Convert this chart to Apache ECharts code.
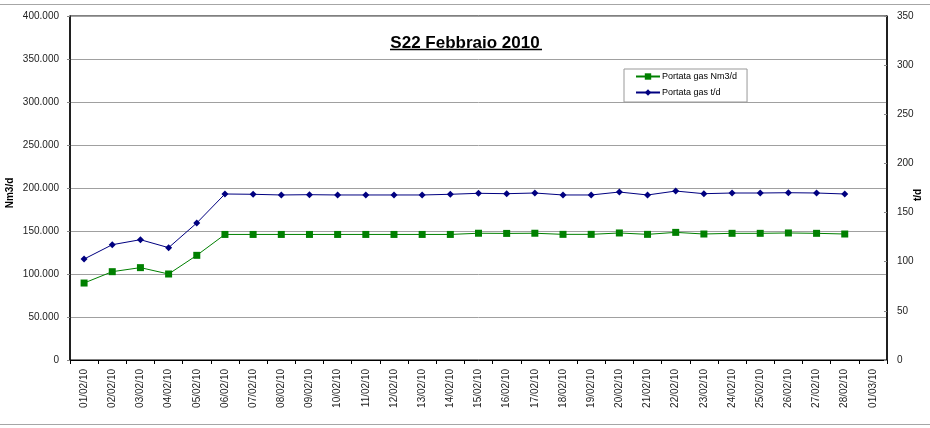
<!DOCTYPE html>
<html lang="it">
<head>
    <meta charset="UTF-8">
    <title>S22 Febbraio 2010</title>
    <style>
        body { margin: 0; background: #fff; }
        #chart { width: 930px; height: 428px; }
    </style>
    <script src="https://cdn.jsdelivr.net/npm/echarts@6/dist/echarts.min.js"></script>
</head>
<body>
    <div id="chart"></div>
    <script>
        // giorni (l'ultima categoria 01/03/10 non ha dati)
        var giorni = ['01/02/10', '02/02/10', '03/02/10', '04/02/10', '05/02/10', '06/02/10', '07/02/10',
            '08/02/10', '09/02/10', '10/02/10', '11/02/10', '12/02/10', '13/02/10', '14/02/10',
            '15/02/10', '16/02/10', '17/02/10', '18/02/10', '19/02/10', '20/02/10', '21/02/10',
            '22/02/10', '23/02/10', '24/02/10', '25/02/10', '26/02/10', '27/02/10', '28/02/10', '01/03/10'];

        // Portata gas Nm3/d (asse sinistro)
        var portataNm3 = [89500, 102700, 107400, 100000, 121700, 146000, 146000,
            146000, 146000, 146000, 146000, 146000, 146000, 146000,
            147400, 147200, 147400, 146100, 146100, 147700, 146100,
            148400, 146500, 147300, 147300, 147700, 147300, 146500, null];

        // Portata gas t/d (asse destro)
        var portataTd = [102.7, 117.3, 122.4, 114.3, 139.4, 168.9, 168.6,
            167.9, 168.2, 167.9, 167.9, 167.9, 167.9, 168.6,
            169.6, 169.2, 169.9, 167.9, 167.9, 170.9, 167.9,
            171.9, 169.2, 169.9, 169.9, 170.2, 169.9, 168.9, null];

        var chart = echarts.init(document.getElementById('chart'));

        var font = 'Arial, "Liberation Sans", sans-serif';
        var nameStyle = { fill: '#000', font: 'bold 10px Arial, "Liberation Sans", sans-serif', align: 'center', verticalAlign: 'middle' };

        var option = {
            animation: false,
            backgroundColor: '#fff',
            textStyle: { fontFamily: font },
            title: {
                text: 'S22 Febbraio 2010',
                left: 'center',
                top: 30,
                textStyle: { fontSize: 17, fontWeight: 'bold', color: '#000', fontFamily: font }
            },
            graphic: [
                { type: 'line', shape: { x1: 0, y1: 4.5, x2: 930, y2: 4.5 }, style: { stroke: '#a6a6a6', lineWidth: 1 } },
                { type: 'line', shape: { x1: 0, y1: 424.5, x2: 930, y2: 424.5 }, style: { stroke: '#a6a6a6', lineWidth: 1 } },
                { type: 'line', shape: { x1: 390, y1: 49.5, x2: 542, y2: 49.5 }, style: { stroke: '#000', lineWidth: 1.5 } },
                // nomi degli assi
                { type: 'text', x: 10, y: 193, rotation: Math.PI / 2, style: Object.assign({ text: 'Nm3/d' }, nameStyle) },
                { type: 'text', x: 918, y: 195, rotation: Math.PI / 2, style: Object.assign({ text: 't/d' }, nameStyle) }
            ],
            legend: {
                orient: 'vertical',
                left: 624,
                top: 69,
                width: 121,
                padding: [3, 10, 5, 11],
                itemGap: 7,
                itemWidth: 24,
                itemHeight: 8,
                borderColor: '#999',
                borderWidth: 1,
                textStyle: { fontSize: 9, color: '#000', fontFamily: font, padding: [0, 0, 0, -3] },
                data: ['Portata gas Nm3/d', 'Portata gas t/d']
            },
            grid: {
                left: 70,
                right: 43,
                top: 16,
                bottom: 68,
                outerBoundsMode: 'none',
                containLabel: false,
                show: true,
                borderColor: '#000',
                borderWidth: 1
            },
            xAxis: {
                type: 'category',
                data: giorni,
                boundaryGap: true,
                axisLine: { lineStyle: { color: '#000' } },
                axisTick: { show: true, length: 4, lineStyle: { color: '#000' } },
                axisLabel: { rotate: 90, interval: 0, fontSize: 10, color: '#222', margin: 9 }
            },
            yAxis: [
                {
                    type: 'value',
                    min: 0,
                    max: 400000,
                    interval: 50000,
                    axisLine: { show: true, lineStyle: { color: '#000', width: 1.5 } },
                    axisTick: { show: true, length: 3, lineStyle: { color: '#888' } },
                    splitLine: { lineStyle: { color: '#a0a0a0' } },
                    axisLabel: {
                        fontSize: 10,
                        color: '#222',
                        margin: 11,
                        formatter: function (v) {
                            return String(v).replace(/\B(?=(\d{3})+(?!\d))/g, '.');
                        }
                    }
                },
                {
                    type: 'value',
                    min: 0,
                    max: 350,
                    interval: 50,
                    position: 'right',
                    axisLine: { show: true, lineStyle: { color: '#000', width: 1.5 } },
                    axisTick: { show: true, inside: true, length: 3, lineStyle: { color: '#888' } },
                    splitLine: { show: false },
                    axisLabel: { fontSize: 10, color: '#222', margin: 10 }
                }
            ],
            series: [
                {
                    name: 'Portata gas Nm3/d',
                    type: 'line',
                    yAxisIndex: 0,
                    data: portataNm3,
                    symbol: 'rect',
                    symbolSize: 7,
                    lineStyle: { color: '#008000', width: 1 },
                    itemStyle: { color: '#008000' }
                },
                {
                    name: 'Portata gas t/d',
                    type: 'line',
                    yAxisIndex: 1,
                    data: portataTd,
                    symbol: 'diamond',
                    symbolSize: 7,
                    lineStyle: { color: '#000080', width: 1 },
                    itemStyle: { color: '#000080' }
                }
            ]
        };

        chart.setOption(option);
    </script>
</body>
</html>
